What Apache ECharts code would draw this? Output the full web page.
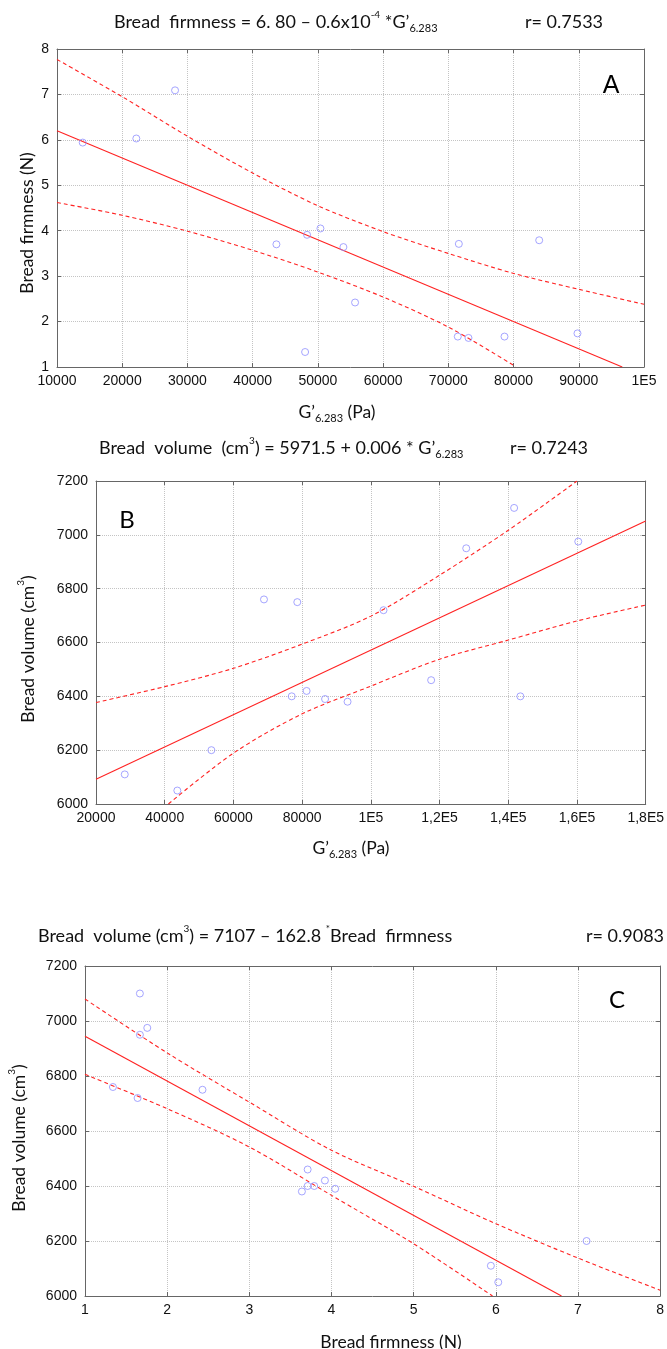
<!DOCTYPE html>
<html>
<head>
<meta charset="utf-8">
<script src="https://cdn.jsdelivr.net/npm/echarts@6/dist/echarts.min.js"></script>
<style>
  html, body { margin: 0; padding: 0; background: #fff; }
  #main { width: 667px; height: 1349px; }
</style>
</head>
<body>
<div id="main"></div>
<script>
// A: firmness vs G'
var aPoints = [[13940, 5.94], [22160, 6.03], [28100, 7.09], [43640, 3.70], [48340, 3.91], [50390, 4.05], [48040, 1.33],
    [53910, 3.64], [55700, 2.42], [71610, 3.71], [71450, 1.67], [73090, 1.64], [78610, 1.67], [83930, 3.79], [89800, 1.74]];
var aFit = [[10000, 6.20], [96667, 1.0]];
var aUpper = [[10000, 7.77], [20000, 6.95], [30000, 6.08], [40000, 5.27], [50000, 4.55], [60000, 3.98], [70000, 3.50], [80000, 3.06], [90000, 2.71], [100000, 2.38]];
var aLower = [[10000, 4.62], [20000, 4.34], [30000, 3.99], [40000, 3.57], [50000, 3.09], [60000, 2.54], [70000, 1.88], [80000, 1.04], [80300, 1.0]];

// B: volume vs G'
var bPoints = [[28370, 6110], [43670, 6050], [53590, 6200], [68890, 6760], [78590, 6750], [76970, 6400], [81300, 6420], [86670, 6390],
    [93220, 6380], [103690, 6720], [117550, 6460], [127760, 6950], [141700, 7100], [143520, 6400], [160370, 6975]];
var bFit = [[20000, 6091.5], [180000, 7051.5]];
var bUpper = [[20000, 6377], [40000, 6436], [60000, 6504], [80000, 6594], [100000, 6698], [120000, 6850], [140000, 7017], [160000, 7200]];
var bLower = [[41070, 6000], [60000, 6189], [80000, 6335], [100000, 6438], [120000, 6538], [140000, 6609], [160000, 6680], [180000, 6739]];

// C: volume vs firmness
var cPoints = [[1.34, 6760], [1.668, 7100], [1.668, 6950], [1.758, 6975], [1.64, 6720], [2.43, 6750], [3.64, 6380], [3.71, 6460],
    [3.71, 6400], [3.79, 6400], [3.92, 6420], [4.045, 6390], [5.94, 6110], [6.03, 6050], [7.105, 6200]];
var cFit = [[1, 6944.2], [6.80, 6000]];
var cUpper = [[1, 7080], [2, 6884], [3, 6705], [4, 6530], [5, 6399], [6, 6263], [7, 6138], [8, 6021]];
var cLower = [[1, 6806], [2, 6681], [3, 6542], [4, 6366], [5, 6190], [5.96, 6000]];

var aXTicks = {10000: '10000', 20000: '20000', 30000: '30000', 40000: '40000', 50000: '50000', 60000: '60000', 70000: '70000', 80000: '80000', 90000: '90000', 100000: '1E5'};
var bXTicks = {20000: '20000', 40000: '40000', 60000: '60000', 80000: '80000', 100000: '1E5', 120000: '1,2E5', 140000: '1,4E5', 160000: '1,6E5', 180000: '1,8E5'};

var tickFont = 'Liberation Sans, Arial, sans-serif';
var textFont = 'Lato, Open Sans, sans-serif';
var lineCol = '#666';
var red = '#f22';
var dotBlue = '#8f8fff';

var grids = [
    {left: 57, top: 49, width: 587, height: 318},
    {left: 96, top: 481, width: 555, height: 323},
    {left: 85, top: 966, width: 577, height: 330}
];

function plain(v) { return String(v); }

var xAxes = [];
var yAxes = [];
function addAxes(gi, xmin, xmax, xint, ymin, ymax, yint, xfmt) {
    var base = {
        gridIndex: gi, type: 'value',
        axisLine: {show: true, onZero: false, lineStyle: {color: lineCol, width: 1}},
        axisTick: {show: true, inside: true, length: 4, lineStyle: {color: lineCol}},
        splitLine: {show: true, lineStyle: {color: '#c4c4c4', type: 'dotted', width: 1}},
        axisLabel: {color: '#111', fontFamily: tickFont, fontSize: 14}
    };
    xAxes.push(Object.assign({}, base, {position: 'bottom', min: xmin, max: xmax, interval: xint,
        axisLabel: {color: '#111', fontFamily: tickFont, fontSize: 14, margin: 7, formatter: xfmt}}));
    xAxes.push(Object.assign({}, base, {position: 'top', min: xmin, max: xmax, interval: xint,
        axisLabel: {show: false}, splitLine: {show: false}}));
    yAxes.push(Object.assign({}, base, {position: 'left', min: ymin, max: ymax, interval: yint,
        axisLabel: {color: '#111', fontFamily: tickFont, fontSize: 14, margin: 8, formatter: plain}}));
    yAxes.push(Object.assign({}, base, {position: 'right', min: ymin, max: ymax, interval: yint,
        axisLabel: {show: false}, splitLine: {show: false}}));
}
addAxes(0, 10000, 100000, 10000, 1, 8, 1, function (v) { return aXTicks[v] || String(v); });
addAxes(1, 20000, 180000, 20000, 6000, 7200, 200, function (v) { return bXTicks[v] || String(v); });
addAxes(2, 1, 8, 1, 6000, 7200, 200, plain);

var series = [];
function addSeries(gi, pts, fit, up, low) {
    var xi = gi * 2, yi = gi * 2;
    series.push({type: 'scatter', xAxisIndex: xi, yAxisIndex: yi, data: pts, symbol: 'circle', symbolSize: 7,
        itemStyle: {color: 'rgba(0,0,0,0)', borderColor: dotBlue, borderWidth: 1}, z: 5});
    series.push({type: 'line', xAxisIndex: xi, yAxisIndex: yi, data: fit, symbol: 'none',
        lineStyle: {color: red, width: 1.1}});
    series.push({type: 'line', xAxisIndex: xi, yAxisIndex: yi, data: up, symbol: 'none', smooth: 0.3,
        lineStyle: {color: red, width: 1.1, type: [4, 3]}});
    series.push({type: 'line', xAxisIndex: xi, yAxisIndex: yi, data: low, symbol: 'none', smooth: 0.3,
        lineStyle: {color: red, width: 1.1, type: [4, 3]}});
}
addSeries(0, aPoints, aFit, aUpper, aLower);
addSeries(1, bPoints, bFit, bUpper, bLower);
addSeries(2, cPoints, cFit, cUpper, cLower);

// rich text styles for titles
var rich = {
    t: {fontFamily: textFont, fontSize: 18, lineHeight: 24, verticalAlign: 'middle', fill: '#111'},
    n: {fontFamily: textFont, fontSize: 17.5, lineHeight: 24, verticalAlign: 'middle', fill: '#111'},
    sup: {fontFamily: textFont, fontSize: 10, lineHeight: 16, verticalAlign: 'top', fill: '#111'},
    sub: {fontFamily: textFont, fontSize: 11, lineHeight: 14, verticalAlign: 'bottom', fill: '#111'}
};
function txt(x, y, text, opts) {
    opts = opts || {};
    return {type: 'text', x: x, y: y, rotation: opts.rot || 0,
        style: {text: text, rich: rich, align: opts.align || 'left', verticalAlign: 'middle',
            fontFamily: textFont, fontSize: 18, fill: '#111'}};
}

var graphics = [
    txt(114, 22, '{t|Bread  firmness = 6. 80 – 0.6x10}{sup|-4}{t| *G’}{sub|6.283}'),
    txt(525, 22, '{t|r= 0.7533}'),
    txt(99, 448, '{t|Bread  volume  (cm}{sup|3}{t|) = 5971.5 + 0.006 * G’}{sub|6.283}'),
    txt(510, 448, '{t|r= 0.7243}'),
    txt(38, 936, '{t|Bread  volume (cm}{sup|3}{t|) = 7107 – 162.8 }{sup|*}{t|Bread  firmness}'),
    txt(586, 936, '{t|r= 0.9083}'),
    // axis names
    txt(337, 412, '{n|G’}{sub|6.283}{n| (Pa)}', {align: 'center'}),
    txt(351, 848, '{n|G’}{sub|6.283}{n| (Pa)}', {align: 'center'}),
    txt(391, 1342, '{n|Bread firmness (N)}', {align: 'center'}),
    txt(27, 223, '{n|Bread firmness (N)}', {align: 'center', rot: Math.PI / 2}),
    txt(28, 649, '{n|Bread volume (cm}{sup|3}{n|)}', {align: 'center', rot: Math.PI / 2}),
    txt(19, 1138, '{n|Bread volume (cm}{sup|3}{n|)}', {align: 'center', rot: Math.PI / 2}),
    // panel letters
    {type: 'text', x: 611, y: 86, style: {text: 'A', fontFamily: 'Liberation Sans, Arial', fontSize: 25, fill: '#000', align: 'center', verticalAlign: 'middle'}},
    {type: 'text', x: 127, y: 520, style: {text: 'B', fontFamily: textFont, fontSize: 24, fill: '#000', align: 'center', verticalAlign: 'middle'}},
    {type: 'text', x: 617, y: 1000, style: {text: 'C', fontFamily: textFont, fontSize: 24, fill: '#000', align: 'center', verticalAlign: 'middle'}}
];

var myChart = echarts.init(document.getElementById('main'));
var option = {
    backgroundColor: '#fff',
    animation: false,
    grid: grids,
    xAxis: xAxes,
    yAxis: yAxes,
    series: series,
    graphic: graphics
};
myChart.setOption(option);
</script>
</body>
</html>
